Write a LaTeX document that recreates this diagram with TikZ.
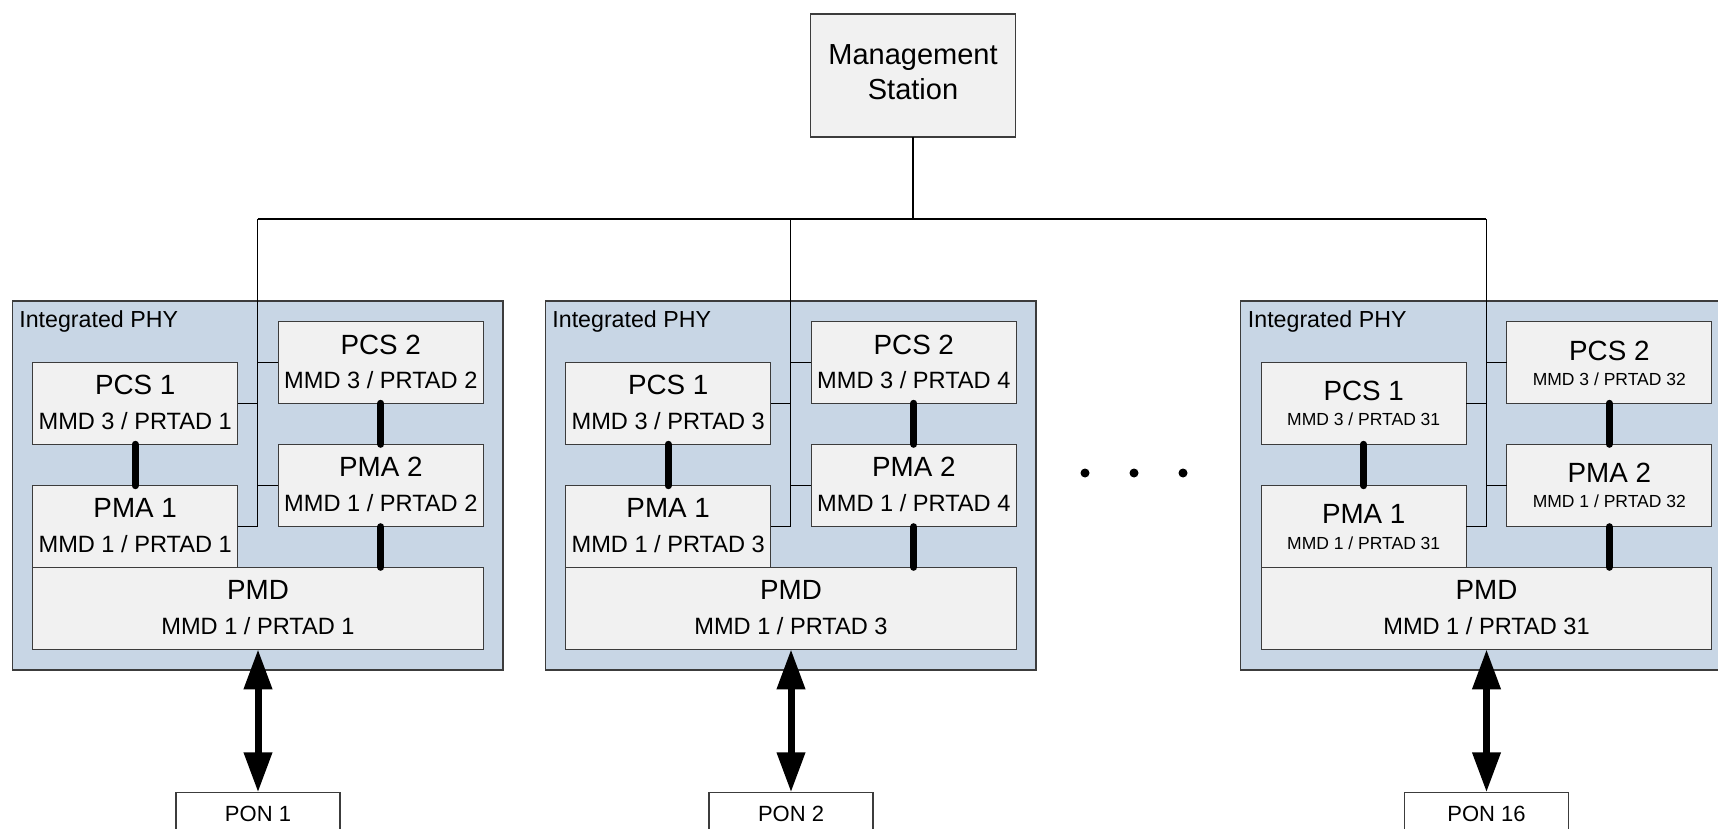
\documentclass[tikz,border=0pt]{standalone}
\usepackage{fontspec}
\setmainfont{Liberation Sans}
\usetikzlibrary{arrows.meta}
\definecolor{phyblue}{RGB}{200,214,229}
\definecolor{boxgray}{RGB}{241,241,241}
\definecolor{edgegray}{RGB}{60,60,60}
\tikzset{
 sz/.style 2 args={minimum width=#1*0.5pt, minimum height=#2*0.5pt},
 phy/.style={draw=edgegray, fill=phyblue, line width=0.6pt, inner sep=0pt, outer sep=0pt},
 layer/.style={draw=edgegray, fill=boxgray, line width=0.6pt, inner sep=0pt, outer sep=0pt},
 ponbox/.style={draw=edgegray, fill=white, line width=0.6pt, inner sep=0pt, outer sep=0pt},
 wire/.style={line width=0.6pt, draw=black},
 thicklink/.style={line width=3.5pt, line cap=round},
 bigarrow/.style={line width=3.5pt, {Triangle[width=13.5pt,length=20pt]}-{Triangle[width=13.5pt,length=20pt]}},
 txt/.style={anchor=base, inner sep=0pt},
 ttl/.style={txt, font=\fontsize{13.9}{16}\selectfont},
 sub/.style={txt, font=\fontsize{11.8}{13}\selectfont},
}
\begin{document}
\begin{tikzpicture}[x=0.5pt, y=-0.5pt]
\useasboundingbox (0,0) rectangle (1718,829);
\clip (0,0) rectangle (1718,829);
\fill[white] (0,0) rectangle (1718,829);

% management station
\node[layer, sz={204.6}{123}] (mgmt) at (913,75.5) {};
\node[txt, font=\fontsize{14.5}{17}\selectfont] (mgmtA) at (913,65) {Management};
\node[txt, font=\fontsize{14.5}{17}\selectfont] (mgmtB) at (913,100) {Station};

\foreach \b/\dx/\na/\nb/\npon/\tb/\sb/\fs in {1/0/1/2/1/32.5/67/11.8, 2/533/3/4/2/32.5/67/11.8, 3/1228.5/31/32/16/38.4/63.4/8.75}{
 \begin{scope}[shift={(\dx,0)}]
  \node[phy, sz={490.7}{369}] (phy-\b) at (257.65,485.5) {};
  \node[txt, anchor=base west, font=\fontsize{11.6}{13}\selectfont] (phyl-\b) at (19,327.7) {Integrated PHY};
  \node[layer, sz={205}{82}] (pcs1-\b) at (135.2,403.3) {};
  \node[layer, sz={205}{81.6}] (pma1-\b) at (135.2,526.5) {};
  \node[layer, sz={205}{81.6}] (pcs2-\b) at (380.8,362.5) {};
  \node[layer, sz={205}{82.4}] (pma2-\b) at (380.8,485.5) {};
  \node[layer, sz={450.6}{82}] (pmd-\b) at (258,608.3) {};
  \node[ponbox, sz={164}{115}] (pon-\b) at (258,849.8) {};
  % texts
  \node[ttl] (pcs1t-\b) at (135.2,{362.3+\tb}) {PCS 1};
  \node[txt, font=\fontsize{\fs}{13}\selectfont] (pcs1s-\b) at (135.2,{362.3+\sb}) {MMD 3 / PRTAD \na};
  \node[ttl] (pma1t-\b) at (135.2,{485.7+\tb-0.8}) {PMA 1};
  \node[txt, font=\fontsize{\fs}{13}\selectfont] (pma1s-\b) at (135.2,{485.7+\sb}) {MMD 1 / PRTAD \na};
  \node[ttl] (pcs2t-\b) at (380.8,{321.7+\tb}) {PCS 2};
  \node[txt, font=\fontsize{\fs}{13}\selectfont] (pcs2s-\b) at (380.8,{321.7+\sb}) {MMD 3 / PRTAD \nb};
  \node[ttl] (pma2t-\b) at (380.8,{444.3+\tb}) {PMA 2};
  \node[txt, font=\fontsize{\fs}{13}\selectfont] (pma2s-\b) at (380.8,{444.3+\sb}) {MMD 1 / PRTAD \nb};
  \node[ttl] (pmdt-\b) at (258,599.3) {PMD};
  \node[sub] (pmds-\b) at (258,634.3) {MMD 1 / PRTAD \na};
  \node[txt, font=\fontsize{11}{13}\selectfont] (pont-\b) at (258,821) {PON \npon};
  % management taps
  \coordinate (tap-\b) at (257.7,219);
  \draw[wire] (tap-\b) |- (pma1-\b.east);
  \draw[wire] (tap-\b |- pcs1-\b.east) -- (pcs1-\b.east);
  \draw[wire] (tap-\b |- pcs2-\b.west) -- (pcs2-\b.west);
  \draw[wire] (tap-\b |- pma2-\b.west) -- (pma2-\b.west);
  % internal thick links
  \draw[thicklink] (pcs1-\b.south) -- (pma1-\b.north);
  \draw[thicklink] (pcs2-\b.south) -- (pma2-\b.north);
  \draw[thicklink] (pma2-\b.south) -- (pma2-\b.south |- pmd-\b.north);
  % PON arrow
  \draw[bigarrow] (pmd-\b.south) -- (pon-\b.north);
 \end{scope}
}

% bus
\draw[wire] (mgmt.south) -- (mgmt.south |- tap-1);
\draw[wire] (tap-1) -- (tap-3);

% ellipsis dots
\fill (1085,473) circle (4.5);
\fill (1134,473) circle (4.5);
\fill (1183,473) circle (4.5);
\end{tikzpicture}
\end{document}
